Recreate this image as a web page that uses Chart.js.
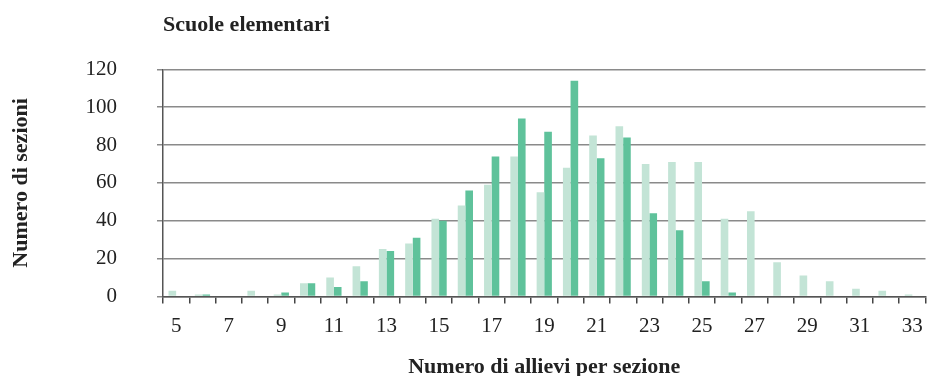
<!DOCTYPE html>
<html>
<head>
<meta charset="utf-8">
<script src="https://cdn.jsdelivr.net/npm/chart.js@4"></script>
<style>
  body { margin: 0; background: #fff; }
  #wrap { width: 933px; height: 376px; }
</style>
</head>
<body>
<div id="wrap"><canvas id="sezioniChart" width="933" height="376"></canvas></div>
<script>
// numero di allievi per sezione
const allievi = [5, 6, 7, 8, 9, 10, 11, 12, 13, 14, 15, 16, 17, 18, 19, 20, 21, 22, 23, 24, 25, 26, 27, 28, 29, 30, 31, 32, 33];
const serieChiara = [3, 1, 0, 3, 1, 7, 10, 16, 25, 28, 41, 48, 59, 74, 55, 68, 85, 90, 70, 71, 71, 41, 45, 18, 11, 8, 4, 3, 1];
const serieScura = [0, 1, 0, 0, 2, 7, 5, 8, 24, 31, 40, 56, 74, 94, 87, 114, 73, 84, 44, 35, 8, 2, 0, 0, 0, 0, 0, 0, 0];
const yTicks = [0, 20, 40, 60, 80, 100, 120];

const serif = "'Liberation Serif', 'Times New Roman', serif";

const ctx = document.getElementById('sezioniChart').getContext('2d');
new Chart(ctx, {
  type: 'bar',
  data: {
    labels: allievi,
    datasets: [
      {
        label: 'Serie 1',
        data: serieChiara,
        backgroundColor: '#c3e4d6',
        categoryPercentage: 0.58,
        barPercentage: 1
      },
      {
        label: 'Serie 2',
        data: serieScura,
        backgroundColor: '#5fc29b',
        categoryPercentage: 0.58,
        barPercentage: 1
      }
    ]
  },
  options: {
    responsive: false,
    animation: false,
    layout: { padding: { left: 0, right: 1, top: 0, bottom: 0 } },
    plugins: {
      legend: { display: false },
      tooltip: { enabled: false },
      title: {
        display: true,
        text: 'Scuole elementari',
        align: 'start',
        fullSize: false,
        color: '#222',
        font: { family: serif, size: 22, weight: 'bold' },
        padding: { top: 12, bottom: 31 }
      }
    },
    scales: {
      x: {
        offset: true,
        grid: {
          display: true,
          offset: true,
          drawOnChartArea: false,
          drawTicks: true,
          tickLength: 7,
          color: '#444',
          lineWidth: 1.5
        },
        border: { display: true, color: '#555', width: 1.5 },
        ticks: {
          autoSkip: false,
          maxRotation: 0,
          color: '#222',
          padding: 10,
          font: { family: serif, size: 21 },
          callback: function (value, index) {
            return index % 2 === 0 ? allievi[index] : '';
          }
        },
        title: {
          display: true,
          text: 'Numero di allievi per sezione',
          color: '#222',
          font: { family: serif, size: 22, weight: 'bold' },
          padding: { top: 6, bottom: -5 }
        }
      },
      y: {
        min: 0,
        max: 120,
        afterFit: function (scale) { scale.width = 163; },
        afterBuildTicks: function (scale) {
          scale.ticks = yTicks.map(v => ({ value: v }));
        },
        grid: {
          color: '#8a8a8a',
          lineWidth: 1.5,
          tickLength: 6
        },
        border: { display: true, color: '#555', width: 1.5 },
        ticks: {
          color: '#222',
          padding: 40,
          font: { family: serif, size: 21 }
        },
        title: {
          display: true,
          text: 'Numero di sezioni',
          color: '#222',
          font: { family: serif, size: 22, weight: 'bold' },
          padding: { top: 8, bottom: 0 }
        }
      }
    }
  }
});
</script>
</body>
</html>
